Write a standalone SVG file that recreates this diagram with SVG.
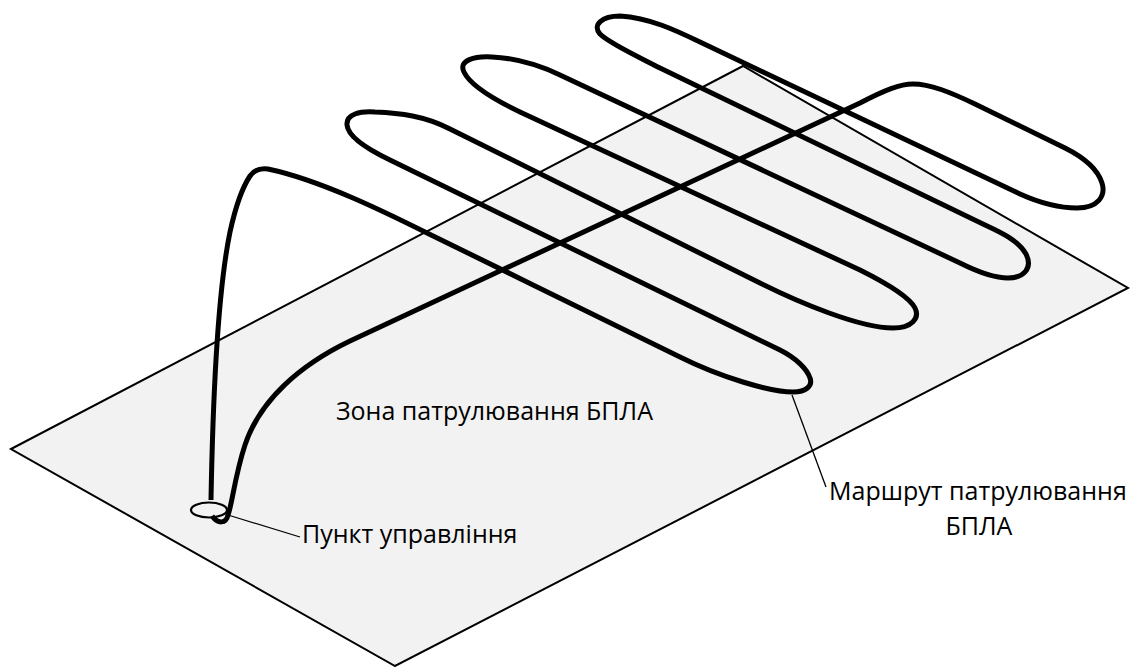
<svg xmlns="http://www.w3.org/2000/svg" width="1133" height="667" viewBox="0 0 1133 667">
  <style>
    .zone { fill: #f2f2f2; stroke: #000; stroke-width: 2; stroke-linejoin: miter; }
    .route { fill: none; stroke: #000; stroke-width: 5; stroke-linejoin: round; }
    .leader { fill: none; stroke: #000; stroke-width: 1.3; }
    .base { fill: none; stroke: #000; stroke-width: 2.2; }
    .label { font-family: "Open Sans", "Noto Sans", "Liberation Sans", sans-serif; font-size: 25px; fill: #000; }
  </style>
  <rect width="1133" height="667" fill="#fff"/>
  <g id="zone-node">
    <polygon class="zone" points="11,449 743,66 1128,288 395,666"/>
    <text class="label" x="336" y="420">Зона патрулювання БПЛА</text>
  </g>
  <g id="route-node">
    <path class="route" d="M211,500 C213,390 218,290 230,232 C237,200 244,185 250,176 C254,170 260,168 268,169 C320,180 385,212 427,233 C510,274 600,317 680,357 C720,377 770,392 793,392 C806,392 813,386 810,378 C807,369 796,358 780,350 L390,160 C365,148 348,136 347,125 C346,114 360,111 375,112 C400,113 425,116 450,129 L760,283 C800,303 860,328 893,328 C912,328 920,318 915,308 C910,298 890,285 860,270 L520,112 C495,100 470,85 464,72 C458,60 475,56 492,57 C515,58 535,63 560,75 L960,263 C978,272 995,278 1008,278 C1024,278 1033,268 1026,254 C1018,240 1000,232 985,225 L660,68 C645,60 610,44 600,34 C592,25 602,16 620,16 C650,18 675,30 700,42 L1020,194 C1040,203 1060,208 1077,208 C1098,208 1106,196 1102,183 C1098,170 1085,158 1065,148 L975,104 C950,92 930,84 913,84 C900,84 885,90 860,103 L350,341 C300,365 260,400 245,445 C235,475 232,505 228,515 C226,524 218,524 212,516"/>
  </g>
  <g id="control-point-node">
    <ellipse class="base" cx="209" cy="510" rx="18" ry="7.5"/>
    <text class="label" x="302" y="543">Пункт управління</text>
  </g>
  <g id="route-label-node">
    <text class="label" x="829" y="500">Маршрут патрулювання</text>
    <text class="label" x="979" y="535" text-anchor="middle">БПЛА</text>
  </g>
  <g id="connectors">
    <line class="leader" x1="228" y1="515" x2="300" y2="537"/>
    <line class="leader" x1="792" y1="395" x2="826" y2="487"/>
  </g>
</svg>
